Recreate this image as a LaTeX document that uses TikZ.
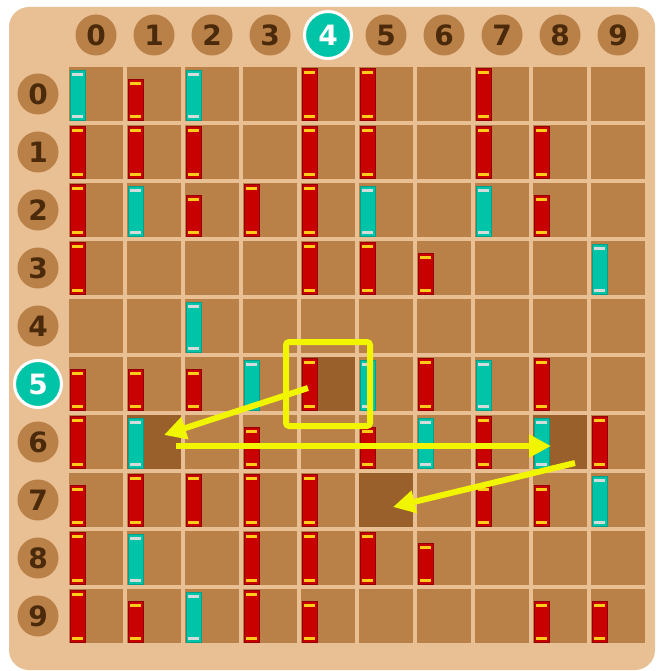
\documentclass[tikz,border=0pt]{standalone}
\usepackage{fontspec}
\setmainfont{DejaVu Sans}
\usetikzlibrary{arrows.meta}
\definecolor{bgc}{HTML}{E9BF94}
\definecolor{cellc}{HTML}{B98048}
\definecolor{darkc}{HTML}{9A602B}
\definecolor{hdrtxt}{HTML}{4A2A0A}
\definecolor{tealc}{HTML}{00C4A8}
\definecolor{tealedge}{HTML}{00A08A}
\definecolor{tealband}{HTML}{D3DCDA}
\definecolor{redc}{HTML}{C80000}
\definecolor{rededge}{HTML}{960000}
\definecolor{goldband}{HTML}{FFCC1A}
\definecolor{hiyel}{HTML}{F2F500}
\newcommand\mybook[5]{% col,row,topoffset,fill,edge
  \pgfmathsetmacro\bl{69+58*#1}%
  \pgfmathsetmacro\bt{67+58*#2+#3}%
  \pgfmathsetmacro\bb{67+58*#2+53.3}%
  \draw[fill=#4, draw=#5, line width=1pt] (\bl+1,\bt) rectangle (\bl+16,\bb);
}
\newcommand\myband[4]{%
  \pgfmathsetmacro\bl{69+58*#1}%
  \pgfmathsetmacro\bt{67+58*#2+#3}%
  \pgfmathsetmacro\bb{67+58*#2+53.3}%
  \fill[#4] (\bl+3,\bt+2.5) rectangle (\bl+14,\bt+5.5);
  \fill[#4] (\bl+3,\bb-5.5) rectangle (\bl+14,\bb-2.5);
}
\begin{document}
\begin{tikzpicture}[x=1pt,y=-1pt,
  cellbox/.style={minimum size=54pt, inner sep=0pt, fill=cellc, draw=none},
  hdr/.style={circle, fill=cellc, minimum size=41pt, inner sep=0pt, text=hdrtxt,
    font=\bfseries\fontsize{28}{28}\selectfont},
  hdrsel/.style={circle, fill=tealc, draw=white, line width=3pt, minimum size=47pt,
    inner sep=0pt, text=white, font=\bfseries\fontsize{28}{28}\selectfont},
  selbox/.style={draw=hiyel, line width=6pt, minimum size=84pt, inner sep=0pt, rounded corners=3pt},
  arr/.style={draw=hiyel, line width=6pt, -{Triangle[length=22pt,width=22pt]}}]
\useasboundingbox (0,0) rectangle (658,671);
\fill[bgc, rounded corners=20pt] (9,7) rectangle (655,670);
% cells
\foreach \c in {0,...,9}{
  \foreach \r in {0,...,9}{
    \node[cellbox] (c\c-\r) at ({96+58*\c},{94+58*\r}) {};
  }
}
\foreach \c/\r in {4/5,1/6,8/6,5/7}{
  \fill[darkc] (c\c-\r.north west) rectangle (c\c-\r.south east);
}
% headers
\foreach \i in {0,1,2,3,5,6,7,8,9}{
  \node[hdr] (col\i) at ({96+58*\i},35) {\i};
}
\node[hdrsel] (col4) at (328,35) {4};
\foreach \j in {0,1,2,3,4,6,7,8,9}{
  \node[hdr] (row\j) at (38,{94+58*\j}) {\j};
}
\node[hdrsel] (row5) at (38,384) {5};
% red full books
\foreach \c/\r in {4/0,5/0,7/0,
  0/1,1/1,2/1,4/1,5/1,7/1,8/1,
  0/2,3/2,4/2,
  0/3,4/3,5/3,
  4/5,6/5,8/5,
  0/6,7/6,9/6,
  1/7,2/7,3/7,4/7,
  0/8,3/8,4/8,5/8,
  0/9,3/9}{
  \mybook{\c}{\r}{1.3}{redc}{rededge}
  \myband{\c}{\r}{1.3}{goldband}
}
% red short books
\foreach \c/\r in {1/0,2/2,8/2,6/3,0/5,1/5,2/5,3/6,5/6,0/7,7/7,8/7,6/8,1/9,4/9,8/9,9/9}{
  \mybook{\c}{\r}{12.3}{redc}{rededge}
  \myband{\c}{\r}{12.3}{goldband}
}
% teal books
\foreach \c/\r in {0/0,2/0,1/2,5/2,7/2,9/3,2/4,3/5,5/5,7/5,1/6,6/6,8/6,9/7,1/8,2/9}{
  \mybook{\c}{\r}{3.8}{tealc}{tealedge}
  \myband{\c}{\r}{3.8}{tealband}
}
% annotations
\node[selbox] (sel) at (c4-5) {};
\coordinate (a1s) at (308,388);
\coordinate (a1e) at (164,435);
\coordinate (a2s) at (176,446);
\coordinate (a2e) at (551,446);
\coordinate (a3s) at (575,463);
\coordinate (a3e) at (393,507);
\draw[arr] (a1s) -- (a1e);
\draw[arr] (a2s) -- (a2e);
\draw[arr] (a3s) -- (a3e);
\end{tikzpicture}
\end{document}
